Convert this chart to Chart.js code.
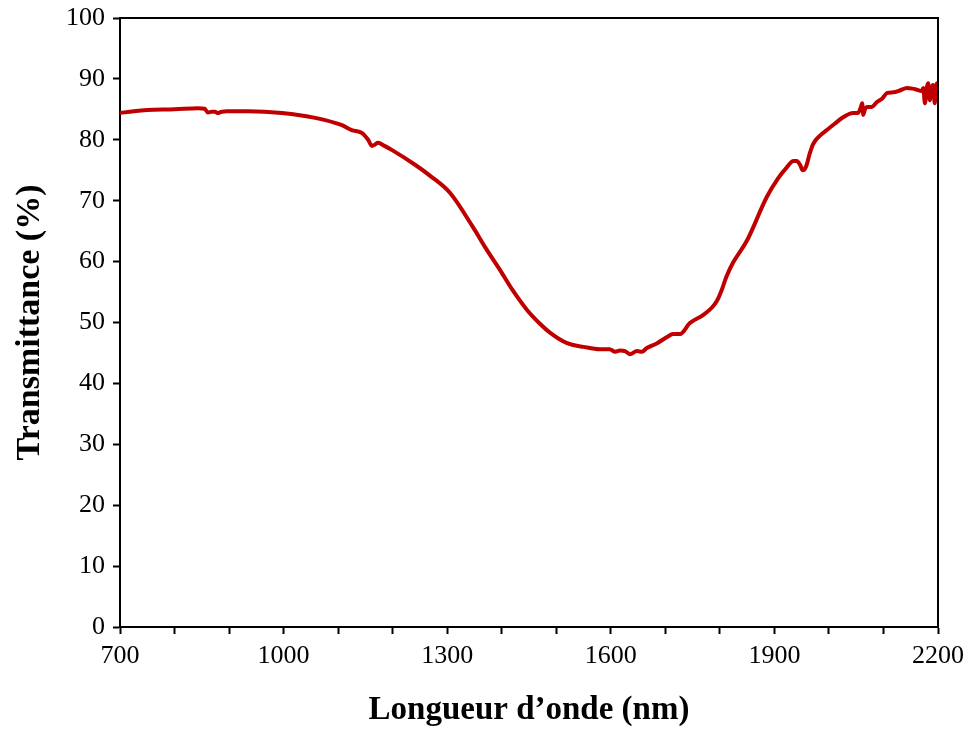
<!DOCTYPE html>
<html>
<head>
<meta charset="utf-8">
<script src="https://cdn.jsdelivr.net/npm/chart.js@4/dist/chart.umd.min.js"></script>
<style>
  html, body { margin: 0; padding: 0; background: #fff; }
  #wrap { width: 972px; height: 729px; }
</style>
</head>
<body>
<div id="wrap"><canvas id="spectre" width="972" height="729"></canvas></div>
<script>
// Longueur d'onde (nm) et transmittance (%)
const wavelengths = [
  700, 725, 750, 800, 843, 855, 861, 868, 874, 880, 883, 887, 895, 935, 997,
  1058, 1107, 1125, 1144, 1155, 1162, 1167, 1173, 1185, 1199, 1241, 1270, 1305,
  1347, 1370, 1397, 1420, 1446, 1470, 1489, 1520, 1550, 1580, 1598, 1608, 1617,
  1626, 1635, 1648, 1657, 1666, 1685, 1703, 1714, 1727, 1745, 1769, 1786, 1795,
  1802, 1812, 1824, 1850, 1886, 1907, 1922, 1935, 1941, 1947, 1952, 1958, 1965,
  1971, 1985, 1996, 2010, 2026, 2044, 2053, 2058, 2061, 2063, 2066, 2070, 2078,
  2088, 2098, 2107, 2118, 2130, 2143, 2153, 2162, 2170, 2173, 2176, 2179, 2182,
  2185, 2188, 2191, 2194, 2196, 2198, 2200
];
const transmittance = [
  84.4, 84.7, 84.9, 85.0, 85.2, 85.1, 84.5, 84.6, 84.6, 84.4, 84.5, 84.6, 84.7, 84.7, 84.4,
  83.6, 82.4, 81.6, 81.1, 80.0, 79.0, 79.2, 79.5, 79.0, 78.3, 75.9, 74.0, 71.3,
  65.7, 62.3, 58.6, 55.3, 52.1, 49.8, 48.3, 46.6, 46.0, 45.6, 45.6, 45.2, 45.4,
  45.3, 44.8, 45.3, 45.2, 45.8, 46.6, 47.6, 48.1, 48.1, 49.9, 51.2, 52.5, 53.6,
  55.0, 57.5, 59.8, 63.5, 70.6, 73.7, 75.4, 76.5, 76.5, 75.9, 75.0, 75.6, 77.8,
  79.3, 80.8, 81.6, 82.6, 83.7, 84.4, 84.4, 85.2, 86.0, 84.1, 85.0, 85.4, 85.4,
  86.2, 86.8, 87.7, 87.8, 88.1, 88.5, 88.4, 88.2, 88.0, 88.5, 86.0, 88.2, 89.3,
  86.5, 88.4, 89.0, 86.0, 88.0, 89.3, 86.5
];
const xTicksLabelled = [700, 1000, 1300, 1600, 1900, 2200];

const serif = '"Liberation Serif", "DejaVu Serif", serif';

// cadre haut + droite
const framePlugin = {
  id: 'frame',
  afterDatasetsDraw(chart) {
    const { ctx, chartArea: a } = chart;
    ctx.save();
    ctx.strokeStyle = '#000';
    ctx.lineWidth = 2;
    ctx.beginPath();
    ctx.moveTo(a.left, a.top);
    ctx.lineTo(a.right, a.top);
    ctx.lineTo(a.right, a.bottom);
    ctx.stroke();
    ctx.restore();
  }
};

const ctx = document.getElementById('spectre').getContext('2d');
new Chart(ctx, {
  type: 'line',
  data: {
    datasets: [{
      data: wavelengths.map((w, i) => ({ x: w, y: transmittance[i] })),
      borderColor: '#C00000',
      borderWidth: 4,
      pointRadius: 0,
      fill: false,
      cubicInterpolationMode: 'monotone'
    }]
  },
  options: {
    responsive: false,
    animation: false,
    layout: { padding: { top: 18, right: 34, left: 0, bottom: 0 } },
    plugins: {
      legend: { display: false },
      tooltip: { enabled: false }
    },
    scales: {
      x: {
        type: 'linear',
        min: 700,
        max: 2200,
        afterFit: s => { s.height = 102; },
        border: { color: '#000', width: 2 },
        grid: { drawOnChartArea: false, tickLength: 7, tickColor: '#000', tickWidth: 2 },
        ticks: {
          stepSize: 100,
          autoSkip: false,
          maxRotation: 0,
          color: '#000',
          padding: 7,
          font: { family: serif, size: 26 },
          callback: v => xTicksLabelled.includes(v) ? String(v) : ''
        },
        title: {
          display: true,
          text: 'Longueur d’onde (nm)',
          color: '#000',
          font: { family: serif, size: 33, weight: 'bold', lineHeight: 1 },
          padding: { top: 20, bottom: 2 }
        }
      },
      y: {
        min: 0,
        max: 100,
        afterFit: s => { s.width = 120; s.paddingTop = 0; s.paddingBottom = 0; },
        border: { color: '#000', width: 2 },
        grid: { drawOnChartArea: false, tickLength: 7, tickColor: '#000', tickWidth: 2 },
        ticks: {
          stepSize: 10,
          color: '#000',
          padding: 8,
          font: { family: serif, size: 26, lineHeight: 1 }
        },
        title: {
          display: true,
          text: 'Transmittance (%)',
          color: '#000',
          font: { family: serif, size: 34, weight: 'bold' },
          padding: { top: 10, bottom: 10 }
        }
      }
    }
  },
  plugins: [framePlugin]
});
</script>
</body>
</html>
